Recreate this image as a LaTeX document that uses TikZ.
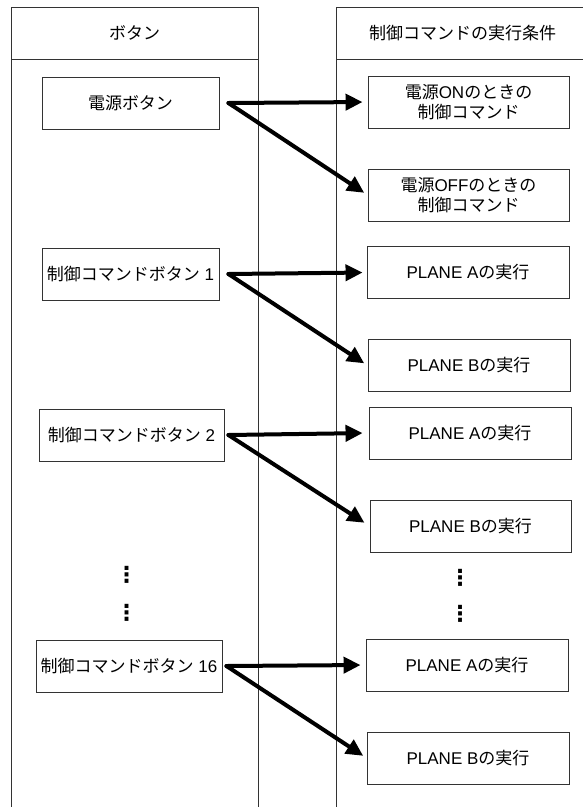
\documentclass[tikz,border=0pt]{standalone}
\usepackage{fontspec}
\setmainfont{Liberation Sans}
\newfontfamily\jp{Noto Sans CJK JP}
\newfontfamily\dv{DejaVu Sans}
\usetikzlibrary{arrows.meta,calc}
\begin{document}
\begin{tikzpicture}[x=1pt,y=-1pt,
  col/.style={draw=black!80, line width=0.9pt},
  box/.style={draw=black!80, line width=0.9pt, minimum height=52pt, inner sep=0pt,
              font=\fontsize{17}{20}\selectfont, align=center},
  hd/.style={font=\fontsize{17}{20}\selectfont},
  dots/.style={font=\dv\bfseries\fontsize{22}{22}\selectfont, inner sep=0pt},
  arr/.style={line width=4pt, line cap=round, -{Triangle[length=17pt,width=16pt]}}
]
\useasboundingbox (0,0) rectangle (583,807);
\clip (0,0) rectangle (583,807);
\fill[white] (0,0) rectangle (583,807);

% columns
\draw[col] (11,830) -- (11,7) -- (258,7) -- (258,830);
\draw[col] (11,59) -- (258,59);
\draw[col] (336,830) -- (336,7) -- (600,7);
\draw[col] (336,59) -- (600,59);
\node[hd] (h1) at (134.5,33) {\jp ボタン};
\node[hd] (h2) at (462.5,33) {\jp 制御コマンドの実行条件};

% left boxes
\node[box, minimum width=177pt] (pw)  at (130.5,103) {\jp 電源ボタン};
\node[box, minimum width=177pt] (b1)  at (130.5,274) {{\jp 制御コマンドボタン} 1};
\node[box, minimum width=185pt] (b2)  at (131.5,435) {{\jp 制御コマンドボタン} 2};
\node[box, minimum width=186pt] (b16) at (129,666)   {{\jp 制御コマンドボタン} 16};

% right boxes
\node[box, minimum width=201pt] (on)  at (468.5,102) {{\jp 電源}ON{\jp のときの}\\{\jp 制御コマンド}};
\node[box, minimum width=201pt] (off) at (468.5,195) {{\jp 電源}OFF{\jp のときの}\\{\jp 制御コマンド}};
\node[box, minimum width=202pt] (a1)  at (468,272.5) {PLANE A{\jp の実行}};
\node[box, minimum width=202pt] (p1)  at (469,365.5) {PLANE B{\jp の実行}};
\node[box, minimum width=202pt] (a2)  at (470,433)   {PLANE A{\jp の実行}};
\node[box, minimum width=201pt] (p2)  at (470.5,526) {PLANE B{\jp の実行}};
\node[box, minimum width=202pt] (a3)  at (467,665)   {PLANE A{\jp の実行}};
\node[box, minimum width=202pt] (p3)  at (468,758)   {PLANE B{\jp の実行}};

% vertical ellipses
\node[dots] (l1) at (126.5,575) {⋮};
\node[dots] (l2) at (126.5,613) {⋮};
\node[dots] (r1) at (460,578) {⋮};
\node[dots] (r2) at (460,614) {⋮};

% arrows
\coordinate (s0) at ($(pw.east)+(9,0)$);
\coordinate (s1) at ($(b1.east)+(9,0)$);
\coordinate (s2) at ($(b2.east)+(4,0)$);
\coordinate (s3) at ($(b16.east)+(4,0)$);
\draw[arr, shorten >=5pt] (s0) -- (on.west);
\draw[arr, shorten >=4pt] (s0) -- (off.west);
\draw[arr, shorten >=4pt] (s1) -- (a1.west);
\draw[arr, shorten >=4pt] (s1) -- (p1.west);
\draw[arr, shorten >=6pt] (s2) -- (a2.west);
\draw[arr, shorten >=6pt] (s2) -- (p2.west);
\draw[arr, shorten >=5pt] (s3) -- (a3.west);
\draw[arr, shorten >=4pt] (s3) -- (p3.west);
\end{tikzpicture}
\end{document}
